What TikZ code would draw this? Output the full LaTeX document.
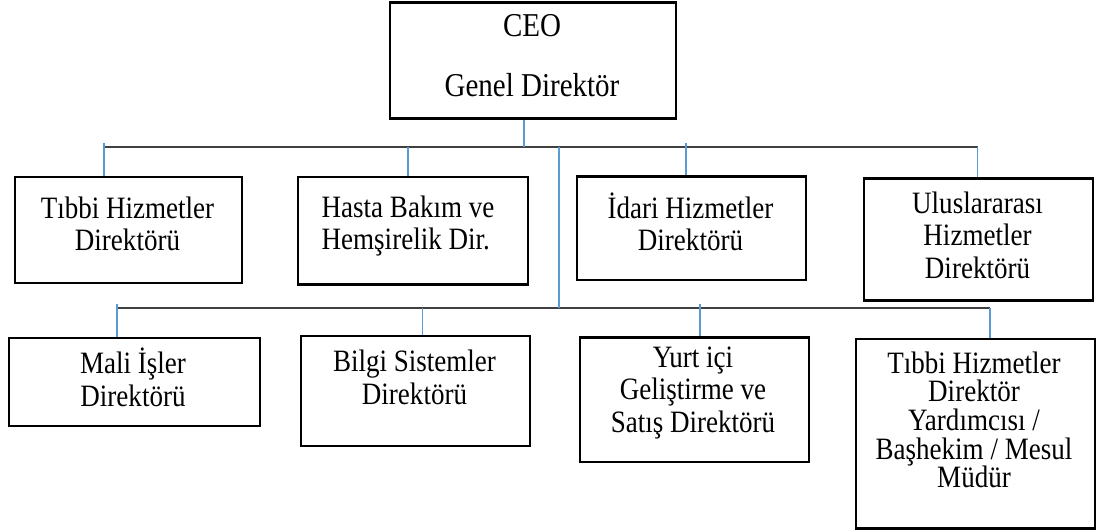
\documentclass[tikz,border=0pt]{standalone}
\usepackage{fontspec}
\setmainfont[FakeStretch=0.87]{Liberation Serif}
\usetikzlibrary{calc,positioning}
\definecolor{linkblue}{HTML}{5B9BD5}
\definecolor{busgray}{HTML}{404040}
\begin{document}
\begin{tikzpicture}[x=0.75pt,y=-0.75pt,
  unit/.style 2 args={draw,line width=1.7pt,anchor=north west,inner sep=0pt,
    minimum width=#1*0.75pt,minimum height=#2*0.75pt},
  lbl/.style={align=center,anchor=base,inner sep=0pt,font=\fontsize{23.3}{24.4}\selectfont},
  bus/.style={draw=busgray,line width=1pt},
  link/.style={draw=linkblue,line width=0.8pt}]

  \useasboundingbox (0,0) rectangle (1096,530);

  % boxes
  \node[unit={286}{116}] (ceo) at (389,1.5) {};
  \node[unit={227}{106}] (tibbi) at (14,176) {};
  \node[unit={230}{107.5}] (hasta) at (297,176) {};
  \node[unit={229}{103.5}] (idari) at (576,175.5) {};
  \node[unit={229}{122}] (ulus) at (863,177.5) {};
  \node[unit={251.5}{88}] (mali) at (7.5,337) {};
  \node[unit={229}{110}] (bilgi) at (300,335) {};
  \node[unit={229.5}{124.5}] (yurt) at (578.5,336.5) {};
  \node[unit={239}{189.5}] (bashekim) at (854.5,338) {};

  % texts (anchored on the last line)
  \node[lbl,font=\fontsize{25}{45}\selectfont] (ceo-t) at (532,97) {CEO\\Genel Direktör};
  \node[lbl] (tibbi-t) at (127.5,251) {Tıbbi Hizmetler\\Direktörü};
  \node[lbl,align=left] (hasta-t) at (408,250) {Hasta Bakım ve\\Hemşirelik Dir.};
  \node[lbl] (idari-t) at (690.5,251) {İdari Hizmetler\\Direktörü};
  \node[lbl] (ulus-t) at (977.5,278.5) {Uluslararası\\Hizmetler\\Direktörü};
  \node[lbl] (mali-t) at (133,406.5) {Mali İşler\\Direktörü};
  \node[lbl] (bilgi-t) at (414.5,404.5) {Bilgi Sistemler\\Direktörü};
  \node[lbl] (yurt-t) at (693,432.5) {Yurt içi\\Geliştirme ve\\Satış Direktörü};
  \node[lbl,font=\fontsize{23.3}{21.5}\selectfont] (bashekim-t) at (974,488)
    {Tıbbi Hizmetler\\Direktör\\Yardımcısı /\\Başhekim / Mesul\\Müdür};

  % buses
  \coordinate (bus1w) at (104,147);
  \coordinate (bus1e) at (977.5,147);
  \coordinate (bus2w) at (117,308);
  \coordinate (bus2e) at (990,308);
  \path[bus] (bus1w) -- (bus1e);
  \path[bus] (bus2w) -- (bus2e);

  % links
  \coordinate (top) at (524,147);
  \path[link] (top) -- (top |- ceo.south);
  \coordinate (trunk) at (559,147);
  \path[link] (trunk) -- (trunk |- bus2w);
  \foreach \x/\y/\n in {104/143/tibbi,408/147/hasta,686/143/idari,977.5/147/ulus,
                        117/304/mali,422.5/308/bilgi,700/304/yurt,990/308/bashekim}{
    \coordinate (tap) at (\x,\y);
    \path[link] (tap) -- (tap |- \n.north);
  }

\end{tikzpicture}
\end{document}
